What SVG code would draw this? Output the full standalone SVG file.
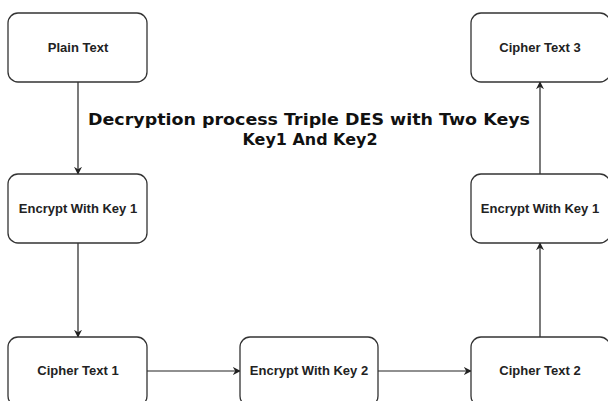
<svg xmlns="http://www.w3.org/2000/svg" width="608" height="401" viewBox="0 0 608 401">
<style>
.box{fill:#fff;stroke:#333;stroke-width:1.3}
.lbl{font-family:"Liberation Sans",Arial,sans-serif;font-weight:bold;font-size:13px;fill:#222;text-anchor:middle}
.title{font-family:"DejaVu Sans",sans-serif;font-weight:bold;font-size:16px;fill:#111;text-anchor:middle}
.edge{stroke:#222;stroke-width:1.2;fill:none;marker-end:url(#arr)}
</style>
<defs>
<marker id="arr" viewBox="0 0 10 10" refX="9" refY="5" markerWidth="8" markerHeight="8" markerUnits="userSpaceOnUse" orient="auto">
<path d="M0,0 L10,5 L0,10 L3,5 Z" fill="#222"/>
</marker>
</defs>
<rect width="608" height="401" fill="#fff"/>
<g id="connectors">
<line class="edge" x1="78" y1="82" x2="78" y2="174"/>
<line class="edge" x1="78" y1="243" x2="78" y2="337"/>
<line class="edge" x1="147" y1="371" x2="240" y2="371"/>
<line class="edge" x1="378" y1="371" x2="471" y2="371"/>
<line class="edge" x1="540" y1="337" x2="540" y2="243"/>
<line class="edge" x1="540" y1="174" x2="540" y2="82"/>
</g>
<g id="plain-text"><rect class="box" x="8" y="13" width="139" height="69" rx="10"/><text class="lbl" x="78" y="52">Plain Text</text></g>
<g id="encrypt-key1-left"><rect class="box" x="8" y="174" width="139" height="69" rx="10"/><text class="lbl" x="78" y="213">Encrypt With Key 1</text></g>
<g id="cipher-text-1"><rect class="box" x="8" y="337" width="139" height="69" rx="10"/><text class="lbl" x="78" y="375">Cipher Text 1</text></g>
<g id="encrypt-key2"><rect class="box" x="240" y="337" width="138" height="69" rx="10"/><text class="lbl" x="309" y="375">Encrypt With Key 2</text></g>
<g id="cipher-text-2"><rect class="box" x="471" y="337" width="139" height="69" rx="10"/><text class="lbl" x="540" y="375">Cipher Text 2</text></g>
<g id="encrypt-key1-right"><rect class="box" x="471" y="174" width="139" height="69" rx="10"/><text class="lbl" x="540" y="213">Encrypt With Key 1</text></g>
<g id="cipher-text-3"><rect class="box" x="471" y="13" width="139" height="69" rx="10"/><text class="lbl" x="540" y="52">Cipher Text 3</text></g>
<g id="title">
<text class="title" x="309" y="125" textLength="442" lengthAdjust="spacingAndGlyphs">Decryption process Triple DES with Two Keys</text>
<text class="title" x="310" y="145" textLength="135" lengthAdjust="spacingAndGlyphs">Key1 And Key2</text>
</g>
</svg>
